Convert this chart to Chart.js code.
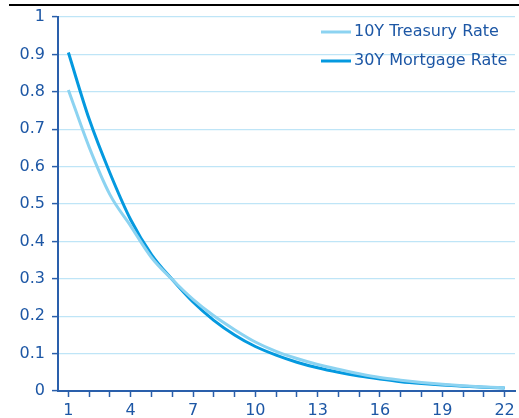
<!DOCTYPE html>
<html>
<head>
<meta charset="utf-8">
<script src="https://cdn.jsdelivr.net/npm/chart.js@4.4.1/dist/chart.umd.min.js"></script>
<style>
  body { margin: 0; background: #fff; }
  #wrap { position: relative; width: 519px; height: 418px; }
  #topRule { position: absolute; left: 9px; right: 0; top: 4px; border-top: 2px solid #000; }
  canvas { position: absolute; left: 0; top: 0; }
</style>
</head>
<body>
<div id="wrap">
  <canvas id="rates-chart" width="519" height="418"></canvas>
  <div id="topRule"></div>
</div>
<script>
// Chart data
const periods = ["1", "2", "3", "4", "5", "6", "7", "8", "9", "10", "11",
    "12", "13", "14", "15", "16", "17", "18", "19", "20", "21", "22"];
const treasury10Y = [0.805, 0.652, 0.525, 0.441, 0.357, 0.298, 0.245, 0.201, 0.164, 0.131, 0.106,
    0.087, 0.071, 0.058, 0.046, 0.036, 0.029, 0.023, 0.018, 0.014, 0.011, 0.009];
const mortgage30Y = [0.905, 0.727, 0.583, 0.458, 0.365, 0.298, 0.238, 0.189, 0.150, 0.119, 0.096,
    0.077, 0.062, 0.050, 0.040, 0.032, 0.025, 0.020, 0.016, 0.013, 0.010, 0.008];
const seriesNames = ["10Y Treasury Rate", "30Y Mortgage Rate"];

const textBlue = '#1d57a5';
const axisBlue = '#2a5fab';
const gridBlue = '#bfe5f7';

Chart.defaults.font.family = "'DejaVu Sans', sans-serif";
Chart.defaults.font.size = 16;
Chart.defaults.color = textBlue;

// legend drawn inside the plot, top right
const insideLegend = {
    id: 'insideLegend',
    afterDraw(chart) {
        const ctx = chart.ctx;
        const area = chart.chartArea;
        const x0 = area.right - 194;
        ctx.save();
        ctx.font = "16px 'DejaVu Sans', sans-serif";
        ctx.textBaseline = 'middle';
        chart.data.datasets.forEach((ds, i) => {
            const y = area.top + 15 + i * 29;
            ctx.strokeStyle = ds.borderColor;
            ctx.lineWidth = 3;
            ctx.beginPath();
            ctx.moveTo(x0, y);
            ctx.lineTo(x0 + 30, y);
            ctx.stroke();
            ctx.fillStyle = textBlue;
            ctx.fillText(ds.label, x0 + 33, y);
        });
        ctx.restore();
    }
};

const ratesCanvas = document.getElementById("rates-chart");
let ratesChart = new Chart(ratesCanvas, {
    type: 'line',
    data: {
        labels: periods,
        datasets: [{
            label: seriesNames[0],
            data: treasury10Y,
            borderColor: '#8cd3f1',
            borderWidth: 3,
            pointRadius: 0,
            cubicInterpolationMode: 'monotone',
            fill: false
        }, {
            label: seriesNames[1],
            data: mortgage30Y,
            borderColor: '#0499df',
            borderWidth: 3,
            pointRadius: 0,
            cubicInterpolationMode: 'monotone',
            fill: false
        }]
    },
    options: {
        responsive: false,
        animation: false,
        layout: {
            padding: { top: 17, right: 4, bottom: 0, left: 0 }
        },
        scales: {
            x: {
                offset: true,
                afterFit: s => { s.height = 27; },
                grid: {
                    drawOnChartArea: false,
                    drawTicks: true,
                    tickLength: 6,
                    tickColor: axisBlue,
                    tickWidth: 1.5
                },
                border: { color: axisBlue, width: 2 },
                ticks: {
                    autoSkip: false,
                    maxRotation: 0,
                    padding: 4,
                    callback: function(val, index) {
                        return index % 3 === 0 ? this.getLabelForValue(val) : '';
                    }
                }
            },
            y: {
                min: 0,
                max: 1,
                afterFit: s => { s.width = 58; },
                grid: {
                    color: gridBlue,
                    lineWidth: 1.2,
                    tickLength: 6,
                    tickColor: axisBlue,
                    tickWidth: 1.5
                },
                border: { color: axisBlue, width: 2 },
                ticks: {
                    stepSize: 0.1,
                    padding: 7,
                    callback: val => String(Number(val.toFixed(1)))
                }
            }
        },
        plugins: {
            legend: { display: false },
            tooltip: { enabled: false }
        }
    },
    plugins: [insideLegend]
});
</script>
</body>
</html>
